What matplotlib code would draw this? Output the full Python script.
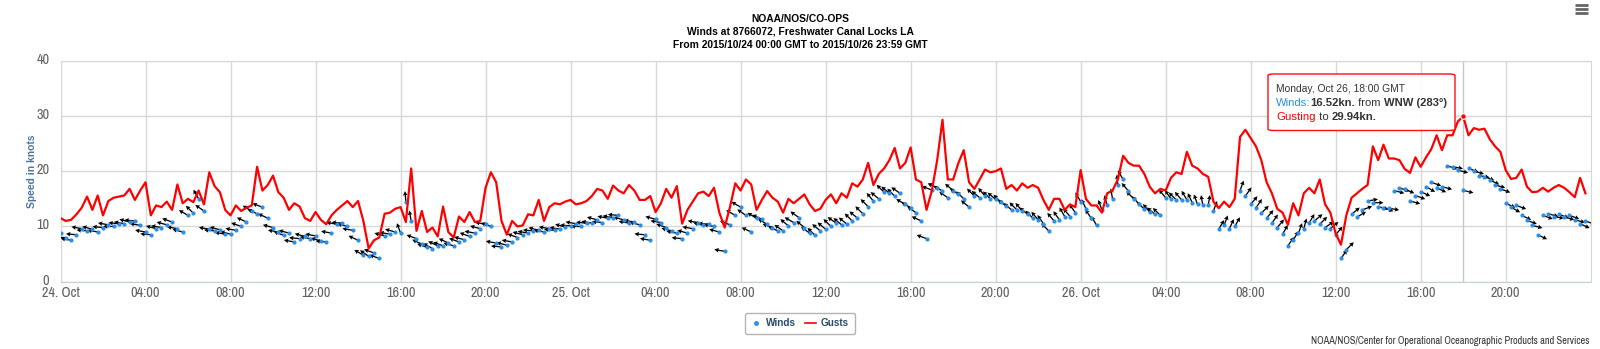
import numpy as np
import matplotlib.pyplot as plt
import matplotlib.transforms as mtransforms
from matplotlib.patches import FancyBboxPatch
from matplotlib.lines import Line2D
from matplotlib import font_manager
from matplotlib.font_manager import FontProperties

REG = 'Liberation Sans'


# a condensed regular face for axis labels / credits, if one is installed
def is_narrow(f):
    return 'Narrow' in f.name or 'Condensed' in f.name or str(f.stretch) in ('condensed', 'semi-condensed')


def is_bold(f):
    w = f.weight
    return w in ('bold', 'heavy', 'semibold', 'demibold') or (isinstance(w, int) and w >= 600)


narrow = [f for f in font_manager.fontManager.ttflist
          if is_narrow(f) and f.style == 'normal' and not is_bold(f)]
narrow.sort(key=lambda f: (0 if 'Liberation' in f.name else 1, f.name))
FP_N = FontProperties(fname=narrow[0].fname) if narrow else FontProperties(family=REG)

# ---- data: 15-minute samples from 2015-10-24 00:00 GMT (hours since start)
gusts = [
    11.5, 11.0, 11.2, 12.2, 13.4, 15.4, 13.0, 15.6, 12.0, 14.6, 15.2, 15.4, 15.6, 16.8, 14.8, 16.5,
    18.0, 12.0, 13.8, 13.5, 14.5, 13.0, 17.6, 14.2, 15.0, 14.4, 16.5, 14.0, 19.8, 17.3, 16.2, 13.0,
    12.0, 13.8, 12.8, 13.4, 13.8, 20.8, 16.5, 17.5, 19.2, 16.2, 15.2, 13.0, 14.2, 13.6, 11.5, 11.0,
    12.6, 11.2, 10.4, 12.0, 13.0, 13.8, 14.6, 13.5, 14.6, 11.0, 6.0, 7.5, 8.0, 12.3, 12.5, 13.2,
    13.5, 10.8, 20.5, 9.2, 12.8, 9.0, 9.8, 8.2, 13.6, 9.0, 8.0, 11.8, 10.8, 12.6, 10.8, 11.0,
    17.0, 19.8, 18.0, 11.0, 8.5, 11.0, 10.0, 10.2, 12.2, 12.0, 14.8, 11.0, 13.5, 14.2, 14.0, 14.5,
    14.8, 14.0, 14.2, 14.6, 15.5, 16.8, 16.5, 15.0, 17.4, 16.5, 16.0, 17.5, 16.5, 14.8, 14.8, 15.5,
    12.6, 14.2, 16.8, 15.2, 17.3, 10.5, 13.0, 14.5, 16.0, 16.3, 15.5, 17.0, 12.5, 9.8, 13.5, 17.8,
    16.5, 18.5, 17.6, 13.0, 14.8, 16.4, 15.2, 14.5, 12.5, 15.0, 14.2, 15.0, 15.8, 14.0, 12.8, 13.2,
    14.8, 15.8, 14.2, 16.0, 15.2, 17.8, 17.2, 18.5, 21.5, 17.5, 19.5, 20.5, 22.0, 24.2, 20.5, 21.5,
    24.3, 18.5, 18.0, 13.0, 16.5, 22.0, 29.3, 18.5, 18.5, 21.5, 23.8, 18.0, 16.8, 18.5, 20.3, 19.8,
    20.0, 20.5, 16.8, 17.5, 16.5, 17.8, 17.0, 17.5, 17.0, 14.8, 13.0, 15.0, 15.0, 13.0, 14.0, 13.5,
    20.2, 15.0, 13.8, 13.8, 12.5, 16.0, 16.5, 18.5, 22.8, 21.5, 21.0, 21.0, 19.5, 17.2, 16.0, 16.8,
    16.5, 18.8, 19.8, 19.5, 23.5, 21.0, 20.5, 19.5, 19.0, 14.5, 13.3, 14.5, 13.5, 15.0, 26.2, 27.5,
    26.0, 24.5, 22.0, 18.0, 16.0, 13.2, 12.5, 10.3, 14.2, 12.0, 16.0, 17.0, 16.0, 18.5, 14.0, 12.5,
    8.7, 6.7, 12.0, 15.2, 16.0, 16.8, 17.5, 24.5, 22.0, 24.8, 22.3, 22.3, 22.0, 20.4, 19.7, 22.5,
    20.8, 22.5, 24.0, 26.5, 23.8, 26.5, 26.5, 29.0, 29.94, 26.5, 27.8, 27.5, 27.7, 25.8, 24.5, 23.5,
    20.2, 18.6, 18.8, 20.3, 17.2, 16.2, 16.3, 17.0, 16.3, 17.0, 17.5, 17.0, 16.2, 15.3, 18.8, 16.0,
]

winds = [
    8.8, 8.0, 7.5, 8.5, 9.6, 9.2, 9.5, 9.0, 9.8, 10.3, 10.0, 10.5, 10.5, 10.8, 11.0, 10.2,
    9.0, 8.5, 9.6, 9.8, 10.3, 10.8, 9.6, 9.0, 12.0, 12.4, 15.0, 12.8, 9.5, 9.2, 9.4, 8.6,
    8.6, 9.3, 10.0, 10.8, 12.8, 12.3, 13.5, 11.5, 9.8, 9.0, 8.4, 8.8, 7.2, 7.8, 8.2, 7.8,
    8.3, 7.4, 7.2, 8.8, 10.4, 10.6, 10.0, 9.3, 7.5, 4.8, 4.6, 5.2, 4.2, 8.3, 8.6, 9.0,
    8.8, 14.5, 11.0, 7.8, 6.8, 6.2, 6.0, 6.5, 6.5, 7.0, 6.5, 7.2, 7.6, 8.2, 8.8, 9.6,
    10.4, 10.0, 7.0, 6.3, 6.6, 7.2, 8.0, 8.5, 8.8, 9.2, 9.3, 9.0, 9.6, 9.3, 9.5, 9.9,
    10.1, 10.5, 10.0, 10.6, 10.6, 11.2, 10.7, 11.5, 11.6, 12.0, 11.2, 10.6, 10.8, 10.3, 8.5, 7.5,
    11.3, 10.7, 9.8, 9.2, 8.8, 7.8, 8.8, 9.6, 10.7, 10.2, 10.4, 10.0, 9.0, 5.5, 10.3, 12.0,
    13.5, 12.0, 9.0, 11.5, 11.3, 10.4, 9.8, 9.2, 9.2, 10.1, 10.7, 11.6, 9.8, 8.8, 8.4, 9.2,
    9.5, 10.0, 10.6, 10.3, 10.4, 11.0, 11.5, 12.3, 13.6, 14.6, 15.0, 16.2, 16.0, 15.5, 16.0, 14.0,
    13.4, 12.5, 11.0, 7.8, 16.6, 17.0, 16.4, 15.2, 16.5, 15.8, 15.0, 13.5, 15.5, 15.2, 15.5, 15.0,
    14.9, 14.4, 13.7, 13.0, 13.0, 12.8, 12.2, 11.5, 11.2, 10.5, 9.2, 11.0, 11.2, 11.8, 11.8, 12.5,
    14.5, 13.2, 11.5, 10.2, 13.0, 13.8, 15.0, 17.5, 18.5, 16.4, 15.0, 14.0, 13.1, 12.6, 12.2, 12.0,
    15.2, 15.0, 14.8, 14.8, 14.8, 14.3, 14.0, 13.8, 13.8, 12.8, 9.5, 10.2, 9.6, 10.0, 16.5, 15.5,
    14.0, 13.4, 12.4, 11.5, 10.6, 9.8, 8.6, 6.5, 7.5, 8.8, 9.6, 10.6, 11.0, 10.4, 9.8, 9.6,
    8.5, 4.2, 5.8, 12.2, 11.7, 13.0, 14.6, 14.3, 13.6, 13.4, 13.3, 16.5, 17.0, 16.8, 14.6, 15.6,
    16.3, 17.2, 18.0, 17.0, 17.2, 21.0, 20.8, 20.2, 16.52, 20.5, 20.0, 19.2, 19.0, 18.4, 17.5, 16.8,
    14.2, 13.5, 13.8, 12.0, 11.1, 10.2, 8.5, 12.0, 12.3, 11.8, 12.2, 11.7, 12.0, 11.2, 10.5, 11.0,
]

# direction the wind comes FROM, degrees
wind_dir = [
    95, 90, 100, 95, 100, 95, 105, 100, 95, 100, 90, 95, 100, 105, 95, 100,
    100, 95, 105, 100, 105, 110, 100, 105, 120, 135, 150, 125, 100, 95, 105, 100,
    105, 100, 110, 115, 120, 115, 110, 115, 105, 100, 110, 105, 100, 95, 105, 100,
    100, 105, 95, 100, 100, 95, 105, 100, 115, 120, 125, 110, 110, 105, 100, 105,
    160, 175, 170, 110, 115, 110, 120, 115, 110, 115, 105, 110, 105, 110, 100, 105,
    100, 110, 100, 95, 105, 100, 110, 105, 100, 95, 105, 100, 100, 95, 100, 105,
    95, 100, 90, 95, 100, 105, 95, 100, 100, 95, 105, 100, 100, 105, 95, 100,
    105, 100, 110, 105, 100, 95, 105, 100, 100, 105, 95, 100, 105, 100, 110, 120,
    120, 125, 115, 120, 115, 120, 110, 115, 125, 130, 120, 125, 130, 125, 135, 130,
    130, 135, 125, 130, 130, 135, 130, 135, 135, 140, 130, 135, 130, 135, 125, 120,
    120, 125, 115, 110, 110, 115, 120, 125, 130, 125, 135, 130, 135, 130, 140, 135,
    130, 135, 125, 130, 135, 140, 130, 135, 140, 145, 135, 140, 145, 150, 140, 145,
    150, 155, 145, 150, 160, 165, 170, 175, 150, 140, 135, 140, 135, 140, 130, 135,
    140, 145, 135, 140, 150, 155, 160, 170, 190, 200, 210, 200, 205, 210, 200, 215,
    220, 215, 225, 220, 215, 220, 210, 215, 210, 200, 195, 210, 230, 225, 235, 230,
    220, 215, 225, 230, 240, 250, 260, 270, 285, 290, 280, 285, 290, 295, 285, 290,
    295, 300, 290, 295, 285, 290, 280, 285, 283, 290, 285, 280, 290, 295, 285, 290,
    295, 300, 290, 295, 290, 285, 295, 290, 285, 280, 290, 285, 290, 285, 295, 290,
]

tick_hours = list(range(0, 72, 4))
tick_labels = ['24. Oct', '04:00', '08:00', '12:00', '16:00', '20:00',
               '25. Oct', '04:00', '08:00', '12:00', '16:00', '20:00',
               '26. Oct', '04:00', '08:00', '12:00', '16:00', '20:00']
titles = ['NOAA/NOS/CO-OPS',
          'Winds at 8766072, Freshwater Canal Locks LA',
          'From 2015/10/24 00:00 GMT to 2015/10/26 23:59 GMT']

hours = np.arange(len(gusts)) * 0.25
to_rad = np.radians(np.array(wind_dir) + 180)
u = np.sin(to_rad)
v = np.cos(to_rad)

W, H = 1600, 349
fig = plt.figure(figsize=(16, 3.49), dpi=100)
ax = fig.add_axes([60.5 / W, 1 - 281.7 / H, (1590.5 - 60.5) / W, (281.7 - 60.7) / H])

grid_c = '#d8d8d8'
ax.set_xlim(0, 71.99)
ax.set_ylim(0, 40)
ax.set_xticks(tick_hours)
ax.set_xticklabels(tick_labels, fontproperties=FP_N, fontsize=10.3, color='#606060')
ax.set_yticks([0, 10, 20, 30, 40])
ax.set_yticklabels(['0', '10', '20', '30', '40'], fontproperties=FP_N, fontsize=10.3, color='#606060')
ax.tick_params(axis='x', length=0, pad=3)
ax.tick_params(axis='y', length=0, pad=8)
# highcharts sits y labels a little above their grid line
up = mtransforms.ScaledTranslation(0, 2.5 / 100, fig.dpi_scale_trans)
for lab in ax.get_yticklabels():
    lab.set_transform(lab.get_transform() + up)
ax.grid(True, color=grid_c, lw=1)
ax.set_axisbelow(True)
for s in ['left', 'right', 'top']:
    ax.spines[s].set_color(grid_c)
ax.spines['bottom'].set_color('#c0d0e0')

# tooltip crosshair at 18:00 Oct 26
ax.axvline(66, color='#c8c8c8', lw=1, zorder=1)

# winds: blue dot + arrow pointing where the wind goes
ax.quiver(hours, winds, u, v, angles='uv', scale_units='dots', scale=0.095,
          units='dots', width=1.3, headwidth=3.6, headlength=3.4, headaxislength=3.0,
          pivot='tail', color='#000000', zorder=3)
ax.plot(hours, winds, 'o', color='#2b8ee8', ms=3, mew=0, zorder=4)

ax.plot(hours, gusts, color='#ff0000', lw=1.6, zorder=5)
ax.plot([66], [29.94], 'o', color='#ff0000', ms=4, mec='white', mew=0.8, zorder=6)

ax.set_ylabel('Speed in knots', family=REG, fontsize=7.4, fontweight='bold', color='#4d759e')
ax.yaxis.set_label_coords((37 - 60.5) / (1590.5 - 60.5), 0.5)

# titles
for txt, y in zip(titles, [18.5, 31.5, 44.5]):
    fig.text(800 / W, 1 - y / H, txt, ha='center', va='center', family=REG,
             fontsize=7.4, fontweight='bold', color='#000000')

# hamburger menu
for yy in (5, 9, 13):
    fig.add_artist(Line2D([1575 / W, 1588 / W], [1 - yy / H, 1 - yy / H],
                          color='#666666', lw=2, solid_capstyle='butt'))

# legend
handles = [Line2D([], [], marker='o', ls='none', color='#2b8ee8', ms=2.5),
           Line2D([], [], color='#ff0000', lw=1.2)]
leg = fig.legend(handles, ['Winds', 'Gusts'], loc='center', ncol=2,
                 bbox_to_anchor=(800 / W, 1 - 323 / H), frameon=True, fancybox=True,
                 handlelength=1.1, handletextpad=0.45, columnspacing=0.9,
                 borderpad=0.55, prop={'family': REG, 'size': 7.2, 'weight': 'bold'})
leg.get_frame().set_edgecolor('#a0a0a0')
leg.get_frame().set_linewidth(1)
for t in leg.get_texts():
    t.set_color('#274b6d')

# credits
fig.text(1589 / W, 1 - 341 / H, 'NOAA/NOS/Center for Operational Oceanographic Products and Services',
         ha='right', va='center', fontproperties=FP_N, fontsize=7.4, color='#333333')

# tooltip
box = FancyBboxPatch((1268 / W, 1 - 130.5 / H), (1455 - 1268) / W, (130.5 - 74) / H,
                     boxstyle='round,pad=0,rounding_size=0.004', transform=fig.transFigure,
                     facecolor='white', edgecolor='#ff0000', lw=1, alpha=0.95, zorder=10)
fig.add_artist(box)

fig.canvas.draw()
renderer = fig.canvas.get_renderer()


def text_run(x, y, parts):
    for txt, color, weight, size in parts:
        t = fig.text(x / W, 1 - y / H, txt, ha='left', va='center', family=REG,
                     fontsize=size, fontweight=weight, color=color, zorder=11)
        x = t.get_window_extent(renderer).x1


text_run(1276, 89, [('Monday, Oct 26, 18:00 GMT', '#333333', 'normal', 7.4)])
text_run(1276, 103, [('Winds:', '#2b8ee8', 'normal', 8.1),
                     ('16.52kn.', '#333333', 'bold', 8.1),
                     (' from ', '#333333', 'normal', 8.1),
                     ('WNW (283°)', '#333333', 'bold', 8.1)])
text_run(1276, 117.5, [('Gusting', '#ff0000', 'normal', 8.2),
                       (' to ', '#333333', 'normal', 8.2),
                       ('29.94kn.', '#333333', 'bold', 8.2)])

fig.savefig('out.png', dpi=100)
